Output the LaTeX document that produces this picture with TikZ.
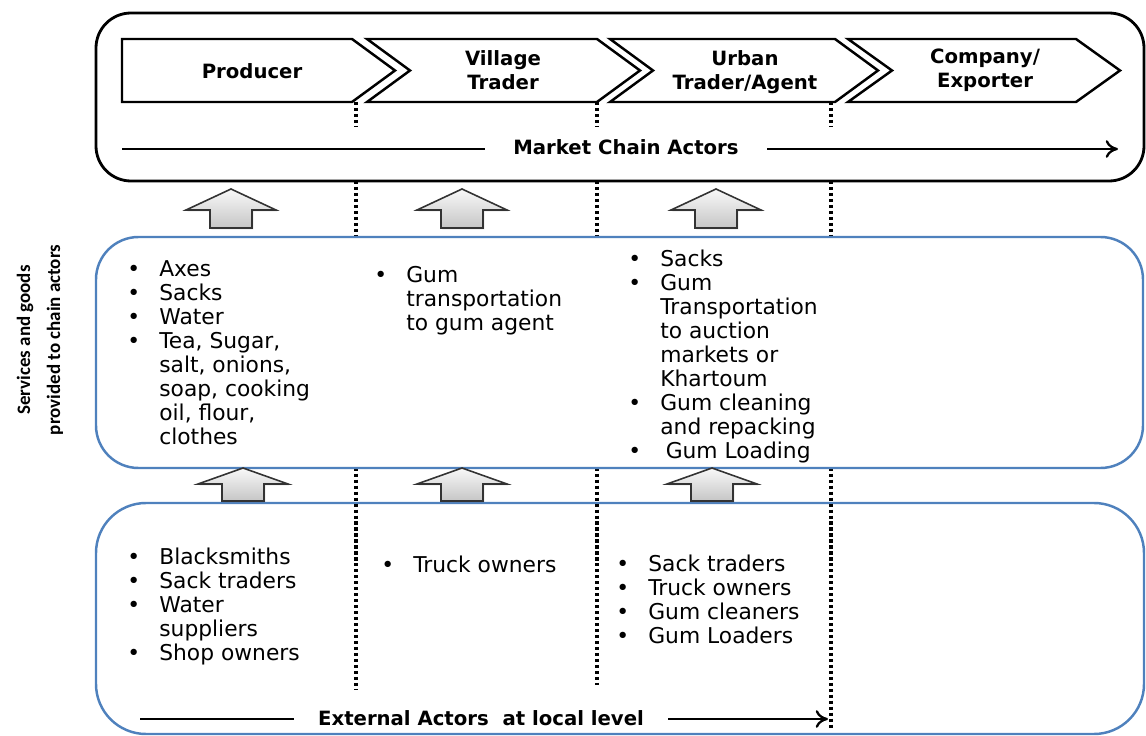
\documentclass[tikz,border=0pt]{standalone}
\usepackage{fontspec}
\setmainfont{DejaVu Sans}
\newfontfamily\sidefont{Carlito}
\usetikzlibrary{arrows, arrows.meta, shadows, positioning}

\definecolor{chainblue}{RGB}{79,129,189}

\tikzset{
    actor/.style={draw=black, line width=1.4pt, fill=white},
    hdr/.style={font=\fontsize{11.2}{13.6}\selectfont\bfseries, align=center, inner sep=0pt},
    lst/.style={font=\fontsize{12.4}{13.7}\selectfont, anchor=north west, inner sep=0pt},
    side/.style={font=\sidefont\fontsize{10.8}{17}\selectfont\bfseries, align=center, rotate=90, inner sep=0pt},
    sep/.style={line width=2pt, dash pattern=on 1.8pt off 1.6pt},
    band/.style={draw=chainblue, line width=1.4pt, rounded corners=0.85cm},
    uparr/.style={draw=black!80, line width=0.9pt, top color=gray!5, bottom color=gray!45,
        drop shadow={opacity=0.3, shadow xshift=0.8pt, shadow yshift=-0.8pt}},
    flow/.style={line width=1.3pt},
    tip/.style={-{To[length=7pt, width=10pt]}}
}

\begin{document}
\begin{tikzpicture}[x=0.02cm, y=-0.02cm]
            \useasboundingbox (0,0) rectangle (1146,736);

            \draw[line width=1.6pt, rounded corners=0.7cm] (96,13) rectangle (1144,181);

            \draw[actor] (122,39) -- (352,39) -- (395,70.5) -- (352,102) -- (122,102) -- cycle;
            \draw[actor] (367,39) -- (597,39) -- (640,70.5) -- (597,102) -- (367,102) -- (410,70.5) -- cycle;
            \draw[actor] (610,39) -- (835,39) -- (878,70.5) -- (835,102) -- (610,102) -- (653,70.5) -- cycle;
            \draw[actor] (848,39) -- (1076,39) -- (1120,70.5) -- (1076,102) -- (848,102) -- (892,70.5) -- cycle;

            \node [hdr] (Np) at (252,71) {Producer};
            \node [hdr] (Nv) at (503,70) {Village\\Trader};
            \node [hdr] (Nu) at (745,72) {Urban\\Trader/Agent};
            \node [hdr] (Nc) at (985,70) {Company/\\Exporter};

            \draw[sep] (356,102) -- (356,127);
            \draw[sep] (597,102) -- (597,127);
            \draw[sep] (831,102) -- (831,127);

            \coordinate (Ml) at (122,149);
            \coordinate (Mr) at (1118,149);
            \node [hdr, inner xsep=0.56cm] (Mc) at (626,147) {Market Chain Actors};
            \draw[flow] (Ml) -- (Ml -| Mc.west);
            \draw[flow, tip] (Mr -| Mc.east) -- (Mr);

            \draw[band, rounded corners=1cm] (96,503) rectangle (1144,734);

            \draw[sep] (356,181) -- (356,690);
            \draw[sep] (597,181) -- (597,685);
            \draw[sep] (831,181) -- (831,728);

            \draw[band, fill=white] (96,237) rectangle (1143,468);

            \draw[uparr] (210,228) -- ++(0,-18) -- ++(-24,0) -- ++(45,-21) -- ++(45,21) -- ++(-24,0) -- ++(0,18) -- cycle;
            \draw[uparr] (441,228) -- ++(0,-18) -- ++(-24,0) -- ++(45,-21) -- ++(45,21) -- ++(-24,0) -- ++(0,18) -- cycle;
            \draw[uparr] (695,228) -- ++(0,-18) -- ++(-24,0) -- ++(45,-21) -- ++(45,21) -- ++(-24,0) -- ++(0,18) -- cycle;

            \draw[uparr] (222,501) -- ++(0,-17) -- ++(-24,0) -- ++(45,-16) -- ++(45,16) -- ++(-24,0) -- ++(0,17) -- cycle;
            \draw[uparr] (441,501) -- ++(0,-17) -- ++(-24,0) -- ++(45,-16) -- ++(45,16) -- ++(-24,0) -- ++(0,17) -- cycle;
            \draw[uparr] (691,501) -- ++(0,-17) -- ++(-24,0) -- ++(45,-16) -- ++(45,16) -- ++(-24,0) -- ++(0,17) -- cycle;

            \node [side] (Ss) at (40,340) {Services and goods\\provided to chain actors};

            \node [lst] (Sp) at (127,259) {\begin{tabular}{@{}p{0.64cm}@{}l@{}}
                \textbullet & Axes\\
                \textbullet & Sacks\\
                \textbullet & Water\\
                \textbullet & Tea, Sugar,\\
                & salt, onions,\\
                & soap, cooking\\
                & oil, flour,\\
                & clothes
            \end{tabular}};
            \node [lst] (Sv) at (374,265) {\begin{tabular}{@{}p{0.64cm}@{}l@{}}
                \textbullet & Gum\\
                & transportation\\
                & to gum agent
            \end{tabular}};
            \node [lst] (Su) at (628,249) {\begin{tabular}{@{}p{0.64cm}@{}l@{}}
                \textbullet & Sacks\\
                \textbullet & Gum\\
                & Transportation\\
                & to auction\\
                & markets or\\
                & Khartoum\\
                \textbullet & Gum cleaning\\
                & and repacking\\
                \textbullet & \hspace{0.25em}Gum Loading
            \end{tabular}};

            \node [lst] (Ep) at (127,547) {\begin{tabular}{@{}p{0.64cm}@{}l@{}}
                \textbullet & Blacksmiths\\
                \textbullet & Sack traders\\
                \textbullet & Water\\
                & suppliers\\
                \textbullet & Shop owners
            \end{tabular}};
            \node [lst] (Ev) at (381,555) {\begin{tabular}{@{}p{0.64cm}@{}l@{}}
                \textbullet & Truck owners
            \end{tabular}};
            \node [lst] (Eu) at (616,554) {\begin{tabular}{@{}p{0.64cm}@{}l@{}}
                \textbullet & Sack traders\\
                \textbullet & Truck owners\\
                \textbullet & Gum cleaners\\
                \textbullet & Gum Loaders
            \end{tabular}};

            \coordinate (El) at (140,719);
            \coordinate (Er) at (828,719);
            \node [hdr, inner xsep=0.48cm] (Ec) at (481,718) {External Actors\ \ at local level};
            \draw[flow] (El) -- (El -| Ec.west);
            \draw[flow, tip] (Er -| Ec.east) -- (Er);
\end{tikzpicture}
\end{document}
